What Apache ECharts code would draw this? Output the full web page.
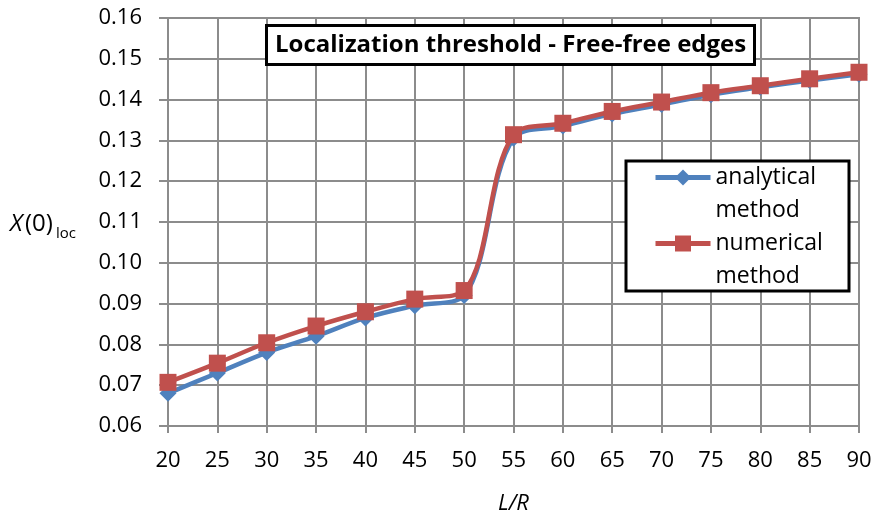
<!DOCTYPE html>
<html>
<head>
<meta charset="utf-8">
<script src="https://cdn.jsdelivr.net/npm/echarts@6/dist/echarts.min.js"></script>
<style>html,body{margin:0;padding:0;background:#fff;}#c{width:875px;height:515px;}</style>
</head>
<body>
<div id="c"></div>
<script>
var ratioLR = [20, 25, 30, 35, 40, 45, 50, 55, 60, 65, 70, 75, 80, 85, 90];
var analytical = [0.068, 0.073, 0.078, 0.082, 0.0865, 0.0895, 0.092, 0.1305, 0.1335, 0.1365, 0.1388, 0.1412, 0.143, 0.1447, 0.1462];
var numerical = [0.0707, 0.0754, 0.0804, 0.0845, 0.088, 0.0911, 0.0932, 0.1314, 0.1342, 0.1371, 0.1394, 0.1417, 0.1434, 0.1451, 0.1467];
var seriesNames = ['analytical method', 'numerical method'];
var legendLabels = {'analytical method': 'analytical\nmethod', 'numerical method': 'numerical\nmethod'};
var titleText = 'Localization threshold - Free-free edges';

var FONT = 'Open Sans';
var gridColor = '#8c8c8c';

function pairs(xs, ys) { return xs.map(function (x, i) { return [x, ys[i]]; }); }

var chart = echarts.init(document.getElementById('c'), null, {renderer: 'canvas'});
chart.setOption({
  animation: false,
  backgroundColor: '#fff',
  title: {
    text: titleText,
    left: 266, top: 25,
    padding: [6, 9, 6, 9],
    borderColor: '#000', borderWidth: 3, backgroundColor: '#fff',
    textStyle: {fontFamily: FONT, fontWeight: 'bold', fontSize: 24, color: '#000', lineHeight: 28}
  },
  grid: {
    left: 168, right: 16, top: 18, bottom: 89,
    outerBoundsMode: 'none', containLabel: false,
    show: true, borderColor: gridColor, borderWidth: 2, backgroundColor: 'transparent'
  },
  xAxis: {
    type: 'value', min: 20, max: 90, interval: 5,
    name: 'L/R', nameLocation: 'middle', nameGap: 67,
    nameTextStyle: {fontFamily: FONT, fontStyle: 'italic', fontSize: 22, color: '#000'},
    axisLine: {show: true, lineStyle: {color: gridColor, width: 2}},
    axisTick: {show: true, length: 7, lineStyle: {color: gridColor, width: 2}},
    axisLabel: {fontFamily: FONT, fontSize: 22, color: '#000', margin: 24},
    splitLine: {show: true, lineStyle: {color: gridColor, width: 2}}
  },
  yAxis: {
    type: 'value', min: 0.06, max: 0.16, interval: 0.01,
    axisLine: {show: true, lineStyle: {color: gridColor, width: 2}},
    axisTick: {show: true, length: 9, lineStyle: {color: gridColor, width: 2}},
    axisLabel: {fontFamily: FONT, fontSize: 22, color: '#000', margin: 26,
      formatter: function (v) { return v.toFixed(2); }},
    splitLine: {show: true, lineStyle: {color: gridColor, width: 2}}
  },
  legend: {
    data: seriesNames,
    orient: 'vertical',
    left: 653, top: 128,
    padding: 0,
    itemWidth: 55, itemHeight: 20, itemGap: -33,
    formatter: function (n) { return '\n' + legendLabels[n]; },
    textStyle: {fontFamily: FONT, fontSize: 23, color: '#000', lineHeight: 33},
    lineStyle: {width: 5},
    z: 5
  },
  graphic: [
    {type: 'rect', z: 4, shape: {x: 626, y: 161, width: 223, height: 130},
      style: {fill: '#fff', stroke: '#000', lineWidth: 3}},
    {type: 'text', x: 10, y: 224, style: {text: 'X', fontFamily: FONT, fontStyle: 'italic', fontSize: 24, fill: '#000', verticalAlign: 'middle'}},
    {type: 'text', x: 25, y: 224, style: {text: '(0)', fontFamily: FONT, fontSize: 24, fill: '#000', verticalAlign: 'middle'}},
    {type: 'text', x: 56, y: 234, style: {text: 'loc', fontFamily: FONT, fontSize: 15, fill: '#000', verticalAlign: 'middle'}}
  ],
  series: [
    {
      name: seriesNames[0], type: 'line', smooth: 0.35,
      data: pairs(ratioLR, analytical),
      symbol: 'diamond', symbolSize: 17,
      lineStyle: {color: '#4f81bd', width: 4.5},
      itemStyle: {color: '#4f81bd'},
      z: 2
    },
    {
      name: seriesNames[1], type: 'line', smooth: 0.35,
      data: pairs(ratioLR, numerical),
      symbol: 'rect', symbolSize: 17,
      lineStyle: {color: '#c0504d', width: 4.5},
      itemStyle: {color: '#c0504d'},
      z: 3
    }
  ]
});
</script>
</body>
</html>
